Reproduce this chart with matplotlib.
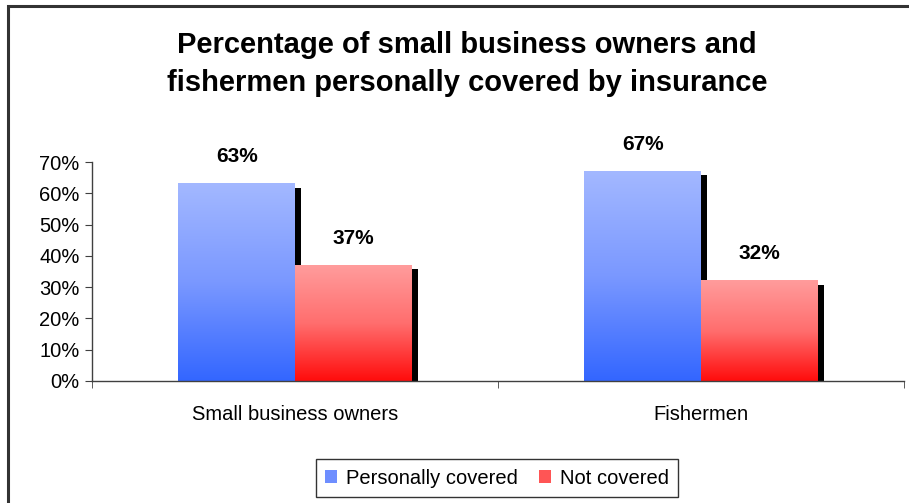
import numpy as np
import matplotlib
matplotlib.use("Agg")
import matplotlib.pyplot as plt
from matplotlib.patches import Patch, Rectangle
from matplotlib.transforms import ScaledTranslation
from matplotlib.colors import LinearSegmentedColormap

categories = ["Small business owners", "Fishermen"]
series_names = ["Personally covered", "Not covered"]
personally_covered = [63, 67]
not_covered = [37, 32]
value_labels = [["63%", "67%"], ["37%", "32%"]]
y_ticks = [0, 10, 20, 30, 40, 50, 60, 70]
y_tick_labels = ["0%", "10%", "20%", "30%", "40%", "50%", "60%", "70%"]
title = "Percentage of small business owners and\nfishermen personally covered by insurance"

plt.rcParams["font.family"] = ["Liberation Sans", "DejaVu Sans"]

W, H, DPI = 909, 503, 100
fig = plt.figure(figsize=(W / DPI, H / DPI), dpi=DPI)
fig.patch.set_facecolor("white")

# chart-area frame (top and left edges visible)
fig.patches.append(Rectangle((8 / W, -0.2), 1.2, 1.2 - 6 / H, transform=fig.transFigure,
                             fill=False, edgecolor="#333333", linewidth=2.2))

ax = fig.add_axes([92 / W, (H - 381) / H, (904 - 92) / W, (381 - 162) / H])

gradients = [
    LinearSegmentedColormap.from_list("blue_grad", ["#3366FF", "#7A98FF", "#A3B8FF"]),
    LinearSegmentedColormap.from_list("red_grad", ["#FF0C0C", "#FF6E6E", "#FF9C9C"]),
]
legend_colors = ["#6E8EFF", "#FF5555"]

bar_w = 0.287
x = np.arange(len(categories))
shadow = ax.transData + ScaledTranslation(6 / DPI, -4 / DPI, fig.dpi_scale_trans)
grad = np.linspace(0, 1, 256).reshape(-1, 1)

for s, values in enumerate([personally_covered, not_covered]):
    xs = x + (s - 0.5) * bar_w
    # drop shadows
    ax.bar(xs, values, width=bar_w, color="black", transform=shadow, zorder=1)
    bars = ax.bar(xs, values, width=bar_w, color="none", zorder=2)
    for b, v, lab in zip(bars, values, value_labels[s]):
        x0 = b.get_x()
        ax.imshow(grad, cmap=gradients[s], aspect="auto", origin="lower",
                  extent=(x0, x0 + bar_w, 0, v), zorder=2, interpolation="bilinear")
        ax.text(x0 + bar_w / 2, v + 8.6, lab, ha="center", va="center",
                fontsize=15, fontweight="bold", color="black", zorder=4)

ax.set_xlim(-0.5, 1.5)
ax.set_ylim(0, 70)

for sp in ["top", "right"]:
    ax.spines[sp].set_visible(False)
for sp in ["left", "bottom"]:
    ax.spines[sp].set_color("#404040")
    ax.spines[sp].set_linewidth(1.0)
    ax.spines[sp].set_zorder(5)

ax.set_yticks(y_ticks)
ax.set_yticklabels(y_tick_labels, fontsize=14.5)
ax.tick_params(axis="y", direction="out", length=5, color="#404040", pad=4)

ax.set_xticks(x)
ax.set_xticklabels(categories, fontsize=14.5)
ax.tick_params(axis="x", which="major", length=0, pad=17)
ax.set_xticks([-0.5, 0.5, 1.5], minor=True)
ax.tick_params(axis="x", which="minor", direction="out", length=5, color="#404040")

fig.text(467 / W, 1 - 64 / H, title, ha="center", va="center", fontsize=21,
         fontweight="bold", linespacing=1.45)

handles = [Patch(facecolor=c, edgecolor="none") for c in legend_colors]
leg = fig.legend(handles, series_names, loc="center", bbox_to_anchor=(497 / W, 1 - 478 / H),
                 ncol=2, frameon=True, fancybox=False, fontsize=14.5, handlelength=0.6,
                 handleheight=0.6, handletextpad=0.45, columnspacing=1.0, borderpad=0.45)
leg.get_frame().set_edgecolor("black")
leg.get_frame().set_linewidth(1.0)

fig.savefig("out.png", dpi=DPI)
